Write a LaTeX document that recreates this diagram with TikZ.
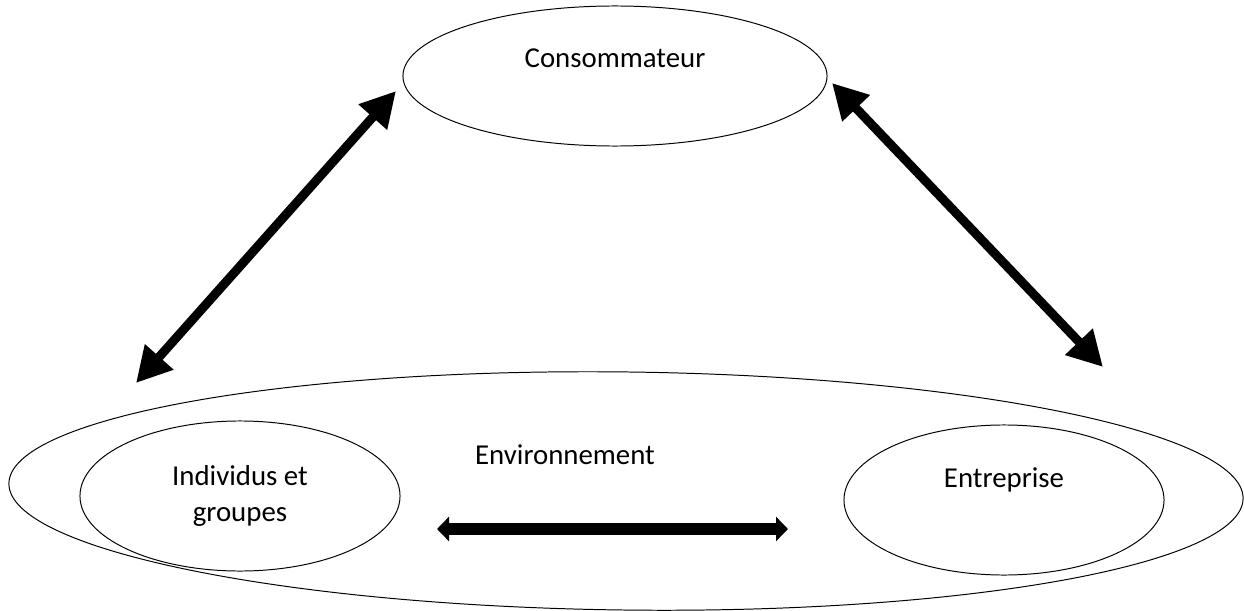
\documentclass[tikz,border=0pt]{standalone}
\usepackage{fontspec}
\setmainfont{Carlito}
\usetikzlibrary{shapes.geometric,arrows.meta}
\begin{document}
\begin{tikzpicture}[x=0.025cm, y=-0.025cm, font=\fontsize{20.5}{26}\selectfont,
  bulle/.style={draw, ellipse, inner sep=0pt, line width=0.7pt},
  grande/.style={line width=0.225cm, {Triangle[length=0.875cm,width=0.9cm]}-{Triangle[length=0.875cm,width=0.9cm]}},
  petite/.style={line width=0.3cm, {Triangle[length=0.3cm,width=0.6cm]}-{Triangle[length=0.3cm,width=0.6cm]}}]
\useasboundingbox (0,0) rectangle (1244,611);
% les ellipses
\node[bulle, minimum width=10.6cm, minimum height=3.5cm, label={[yshift=0.45cm]center:Consommateur}] (cons) at (615,76) {};
\node[bulle, minimum width=30.85cm, minimum height=5.95cm, rotate=-0.7] (env) at (626,491) {};
\node[bulle, minimum width=8cm, minimum height=3.75cm, align=center] (indiv) at (240,496) {Individus et\\groupes};
\node[bulle, minimum width=8cm, minimum height=3.75cm, label={[yshift=0.5cm]center:Entreprise}] (entr) at (1004,500) {};
\node (envtxt) at (565,455) {Environnement};
% les fleches
\coordinate (gh) at (396,91);
\coordinate (gb) at (136,383);
\coordinate (dh) at (832,83);
\coordinate (db) at (1103,367);
\coordinate (mg) at (437,529);
\coordinate (md) at (788,529);
\draw[grande] (gb) -- (gh);
\draw[grande] (dh) -- (db);
\draw[petite] (mg) -- (md);
\end{tikzpicture}
\end{document}
